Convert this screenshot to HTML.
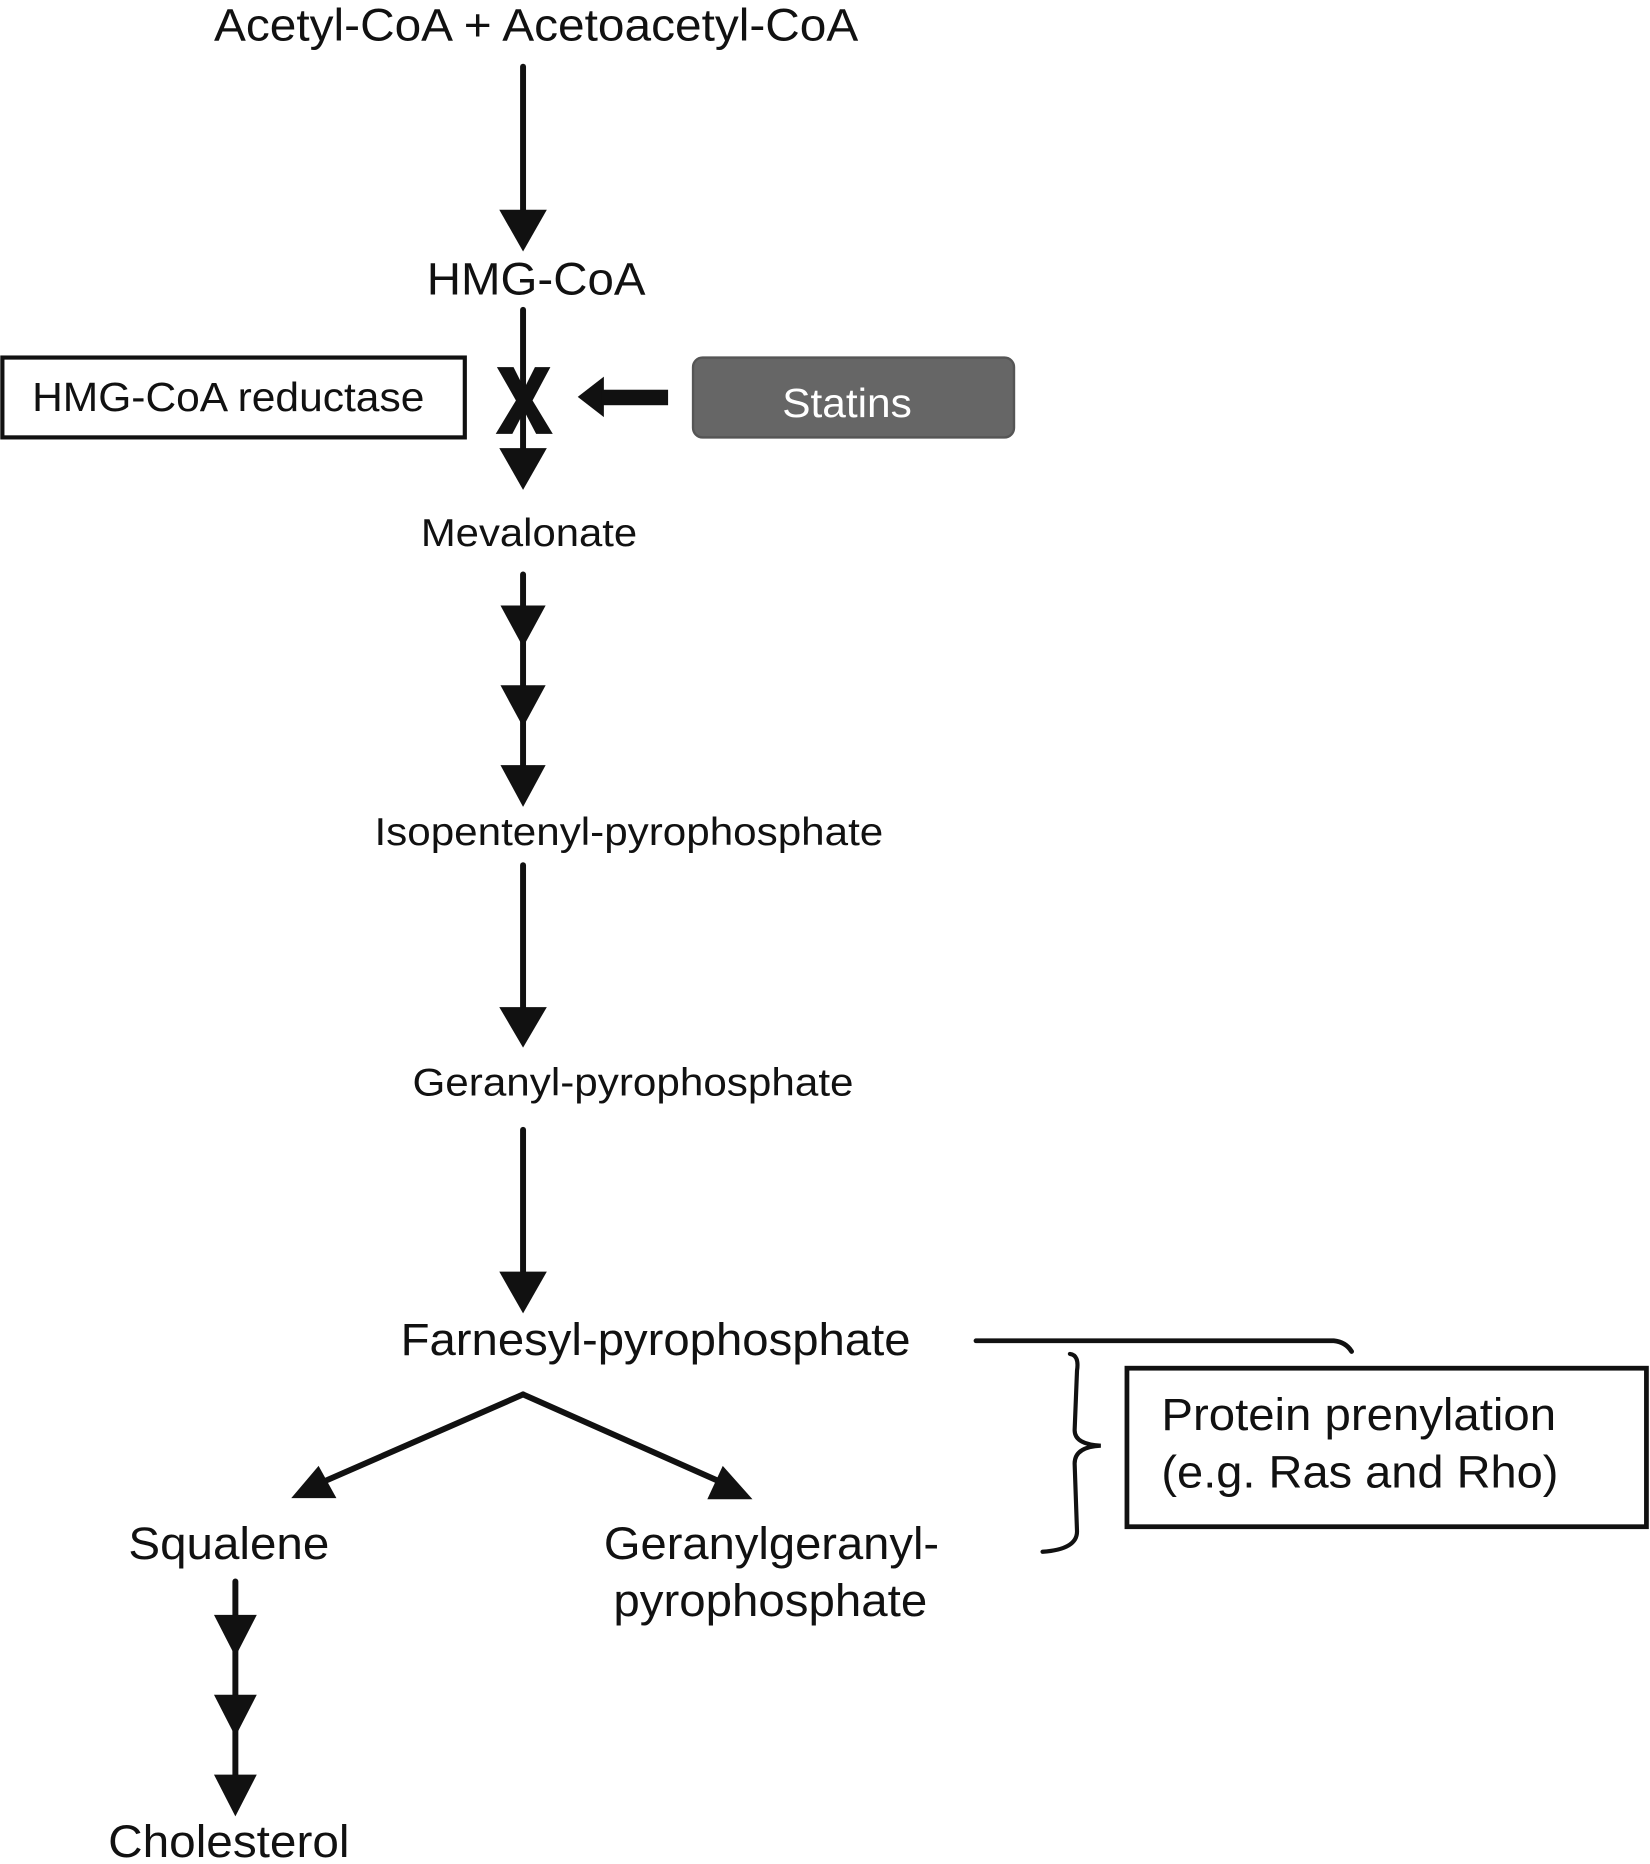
<!DOCTYPE html>
<html><head><meta charset="utf-8"><style>html,body{margin:0;padding:0;background:#fff}svg{display:block}</style></head>
<body>
<svg width="1650" height="1864" viewBox="0 0 1388 1564" preserveAspectRatio="none" xmlns="http://www.w3.org/2000/svg" font-family="Liberation Sans, Arial, sans-serif" fill="#111">
<g stroke="#111" stroke-width="5" fill="none" stroke-linecap="round">
<line x1="440" y1="56" x2="440" y2="180"/>
<line x1="440" y1="260" x2="440" y2="380"/>
<line x1="440" y1="482" x2="440" y2="645"/>
<line x1="440" y1="726" x2="440" y2="850"/>
<line x1="440" y1="948" x2="440" y2="1072"/>
<line x1="440" y1="1170" x2="268" y2="1245"/>
<line x1="440" y1="1170" x2="612" y2="1246"/>
<line x1="198" y1="1327" x2="198" y2="1495"/>
<path d="M821 1125 L1122 1125 Q1132 1126 1137 1134" stroke-width="4"/>
<path d="M900 1136 Q908 1137 906 1150 L904 1200 Q904 1212 926 1213 Q904 1214 904 1228 L906 1285 Q906 1300 877 1302" stroke-width="3.5"/>
</g>
<g fill="#111">
<polygon points="420,176 460,176 440,211"/>
<polygon points="420,376 460,376 440,411"/>
<polygon points="421,508 459,508 440,543"/>
<polygon points="421,575 459,575 440,610"/>
<polygon points="421,642 459,642 440,677"/>
<polygon points="420,845 460,845 440,879"/>
<polygon points="420,1067 460,1067 440,1102"/>
<polygon points="245,1257 283,1257 268,1230"/>
<polygon points="633,1258 595,1258 608,1230"/>
<polygon points="180,1355 216,1355 198,1390"/>
<polygon points="180,1422 216,1422 198,1457"/>
<polygon points="180,1489 216,1489 198,1524"/>
<polygon points="486,333 508,316 508,350"/>
<rect x="506" y="327" width="56" height="13"/>
<path d="M418 308 L432 308 L441 326 L450 308 L463 308 L448 336 L465 364 L451 364 L441 345 L431 364 L417 364 L434 336 Z"/>
</g>
<rect x="2" y="300" width="389" height="67" fill="none" stroke="#111" stroke-width="3.5"/>
<rect x="583" y="300" width="270" height="67" rx="8" fill="#666" stroke="#555" stroke-width="2"/>
<rect x="948" y="1148" width="437" height="133" fill="none" stroke="#111" stroke-width="4"/>
<g lengthAdjust="spacingAndGlyphs">
<text x="180" y="34" font-size="38" textLength="542" lengthAdjust="spacingAndGlyphs">Acetyl-CoA + Acetoacetyl-CoA</text>
<text x="359" y="247" font-size="38" textLength="184" lengthAdjust="spacingAndGlyphs">HMG-CoA</text>
<text x="27" y="345" font-size="34" textLength="330" lengthAdjust="spacingAndGlyphs">HMG-CoA reductase</text>
<text x="658" y="350" font-size="34" fill="#fff" textLength="109" lengthAdjust="spacingAndGlyphs">Statins</text>
<text x="354" y="458" font-size="33" textLength="182" lengthAdjust="spacingAndGlyphs">Mevalonate</text>
<text x="315" y="709" font-size="33" textLength="428" lengthAdjust="spacingAndGlyphs">Isopentenyl-pyrophosphate</text>
<text x="347" y="919" font-size="33" textLength="371" lengthAdjust="spacingAndGlyphs">Geranyl-pyrophosphate</text>
<text x="337" y="1137" font-size="38" textLength="429" lengthAdjust="spacingAndGlyphs">Farnesyl-pyrophosphate</text>
<text x="108" y="1308" font-size="38" textLength="169" lengthAdjust="spacingAndGlyphs">Squalene</text>
<text x="508" y="1308" font-size="38" textLength="282" lengthAdjust="spacingAndGlyphs">Geranylgeranyl-</text>
<text x="516" y="1356" font-size="38" textLength="264" lengthAdjust="spacingAndGlyphs">pyrophosphate</text>
<text x="91" y="1558" font-size="38" textLength="203" lengthAdjust="spacingAndGlyphs">Cholesterol</text>
<text x="977" y="1200" font-size="38" textLength="332" lengthAdjust="spacingAndGlyphs">Protein prenylation</text>
<text x="977" y="1248" font-size="38" textLength="334" lengthAdjust="spacingAndGlyphs">(e.g. Ras and Rho)</text>
</g>
</svg>
</body></html>
